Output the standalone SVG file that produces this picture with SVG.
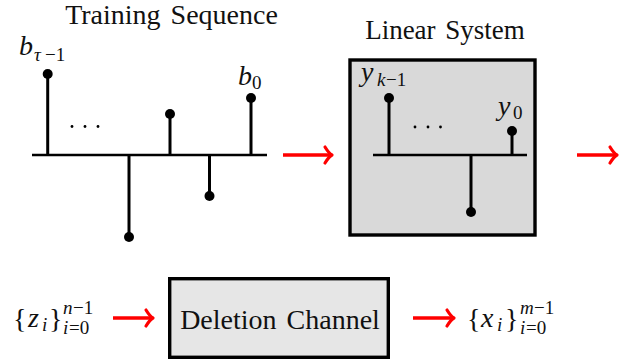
<svg xmlns="http://www.w3.org/2000/svg" width="633" height="364" viewBox="0 0 633 364">
  <style>
    .axis { stroke: #000; stroke-width: 2.6; fill: none; }
    .stem { stroke: #000; stroke-width: 3; fill: none; }
    .tip { fill: #000; }
    .dot { fill: #000; }
    .box { stroke: #000; stroke-width: 3.4; }
    .wire { stroke: #ff0000; stroke-width: 3.4; fill: none; }
    .head { stroke: #ff0000; stroke-width: 3.2; fill: none; stroke-linecap: round; stroke-linejoin: round; }
  </style>

  <!-- Training sequence: stem plot -->
  <g id="training-sequence">
    <text x="171.5" y="24" font-family="Liberation Serif" font-size="28" text-anchor="middle" word-spacing="3" fill="#111">Training Sequence</text>
    <line class="axis" x1="32" y1="155" x2="267" y2="155"/>
    <line class="stem" x1="47.7" y1="155" x2="47.7" y2="74"/>
    <circle class="tip" cx="47.7" cy="74" r="5"/>
    <line class="stem" x1="129" y1="155" x2="129" y2="237"/>
    <circle class="tip" cx="129" cy="237" r="5"/>
    <line class="stem" x1="170" y1="155" x2="170" y2="114"/>
    <circle class="tip" cx="170" cy="114" r="5"/>
    <line class="stem" x1="209.5" y1="155" x2="209.5" y2="196"/>
    <circle class="tip" cx="209.5" cy="196" r="5"/>
    <line class="stem" x1="251" y1="155" x2="251" y2="98"/>
    <circle class="tip" cx="251" cy="98" r="5"/>
    <circle class="dot" cx="72" cy="126.5" r="1.4"/>
    <circle class="dot" cx="85" cy="126.5" r="1.4"/>
    <circle class="dot" cx="98" cy="126.5" r="1.4"/>
    <text x="19" y="55" font-family="Liberation Serif" font-style="italic" font-size="28" fill="#111">b</text>
    <text x="34" y="61" font-family="Liberation Serif" font-style="italic" font-size="19" fill="#111">τ</text>
    <text x="45" y="61" font-family="Liberation Serif" font-size="19" fill="#111">−1</text>
    <text x="238" y="85" font-family="Liberation Serif" font-style="italic" font-size="28" fill="#111">b</text>
    <text x="252" y="89" font-family="Liberation Serif" font-size="19" fill="#111">0</text>
  </g>

  <!-- Linear system block -->
  <g id="linear-system">
    <text x="445" y="39" font-family="Liberation Serif" font-size="27" text-anchor="middle" word-spacing="3" fill="#111">Linear System</text>
    <rect class="box" x="350" y="60" width="185" height="175" fill="#d9d9d9"/>
    <line class="axis" x1="373" y1="155" x2="527" y2="155"/>
    <line class="stem" x1="389" y1="155" x2="389" y2="98"/>
    <circle class="tip" cx="389" cy="98" r="5"/>
    <line class="stem" x1="471" y1="155" x2="471" y2="212"/>
    <circle class="tip" cx="471" cy="212" r="5"/>
    <line class="stem" x1="512" y1="155" x2="512" y2="131"/>
    <circle class="tip" cx="512" cy="131" r="5"/>
    <circle class="dot" cx="415" cy="127" r="1.4"/>
    <circle class="dot" cx="428" cy="127" r="1.4"/>
    <circle class="dot" cx="440.5" cy="127" r="1.4"/>
    <text x="361" y="81" font-family="Liberation Serif" font-style="italic" font-size="28" fill="#111">y</text>
    <text x="377" y="86" font-family="Liberation Serif" font-style="italic" font-size="19" fill="#111">k</text>
    <text x="386" y="86" font-family="Liberation Serif" font-size="19" fill="#111">−1</text>
    <text x="498" y="115" font-family="Liberation Serif" font-style="italic" font-size="28" fill="#111">y</text>
    <text x="513" y="119" font-family="Liberation Serif" font-size="19" fill="#111">0</text>
  </g>

  <!-- Deletion channel block -->
  <g id="deletion-channel">
    <rect class="box" x="169.7" y="278.7" width="218.6" height="78.6" fill="#e6e6e6"/>
    <text x="280" y="329" font-family="Liberation Serif" font-size="28" text-anchor="middle" word-spacing="3" fill="#111">Deletion Channel</text>
  </g>

  <!-- Input sequence label -->
  <g id="input-label">
    <text x="13" y="328" font-family="Liberation Serif" font-size="28" fill="#111">{</text>
    <text x="28" y="327" font-family="Liberation Serif" font-style="italic" font-size="28" fill="#111">z</text>
    <text x="42" y="331" font-family="Liberation Serif" font-style="italic" font-size="19" fill="#111">i</text>
    <text x="49" y="328" font-family="Liberation Serif" font-size="28" fill="#111">}</text>
    <text x="63" y="314" font-family="Liberation Serif" font-style="italic" font-size="19" fill="#111">n</text>
    <text x="73" y="314" font-family="Liberation Serif" font-size="19" fill="#111">−1</text>
    <text x="63" y="334" font-family="Liberation Serif" font-style="italic" font-size="19" fill="#111">i</text>
    <text x="69" y="334" font-family="Liberation Serif" font-size="19" fill="#111">=0</text>
  </g>

  <!-- Output sequence label -->
  <g id="output-label">
    <text x="467" y="328" font-family="Liberation Serif" font-size="28" fill="#111">{</text>
    <text x="481" y="327" font-family="Liberation Serif" font-style="italic" font-size="28" fill="#111">x</text>
    <text x="497" y="331" font-family="Liberation Serif" font-style="italic" font-size="19" fill="#111">i</text>
    <text x="505" y="328" font-family="Liberation Serif" font-size="28" fill="#111">}</text>
    <text x="520" y="314" font-family="Liberation Serif" font-style="italic" font-size="19" fill="#111">m</text>
    <text x="534" y="314" font-family="Liberation Serif" font-size="19" fill="#111">−1</text>
    <text x="520" y="334" font-family="Liberation Serif" font-style="italic" font-size="19" fill="#111">i</text>
    <text x="526" y="334" font-family="Liberation Serif" font-size="19" fill="#111">=0</text>
  </g>

  <!-- Connectors: red shafts with curved arrow tips -->
  <g id="connectors">
    <line class="wire" x1="283" y1="155" x2="331" y2="155"/>
    <path class="head" d="M 325 147 Q 329 153.5 332 155 Q 329 156.5 325 163"/>
    <line class="wire" x1="577" y1="155" x2="616" y2="155"/>
    <path class="head" d="M 610 147 Q 614 153.5 617 155 Q 614 156.5 610 163"/>
    <line class="wire" x1="113" y1="318" x2="152" y2="318"/>
    <path class="head" d="M 146 310 Q 150 316.5 153 318 Q 150 319.5 146 326"/>
    <line class="wire" x1="413" y1="318" x2="453" y2="318"/>
    <path class="head" d="M 447 310 Q 451 316.5 454 318 Q 451 319.5 447 326"/>
  </g>
</svg>
